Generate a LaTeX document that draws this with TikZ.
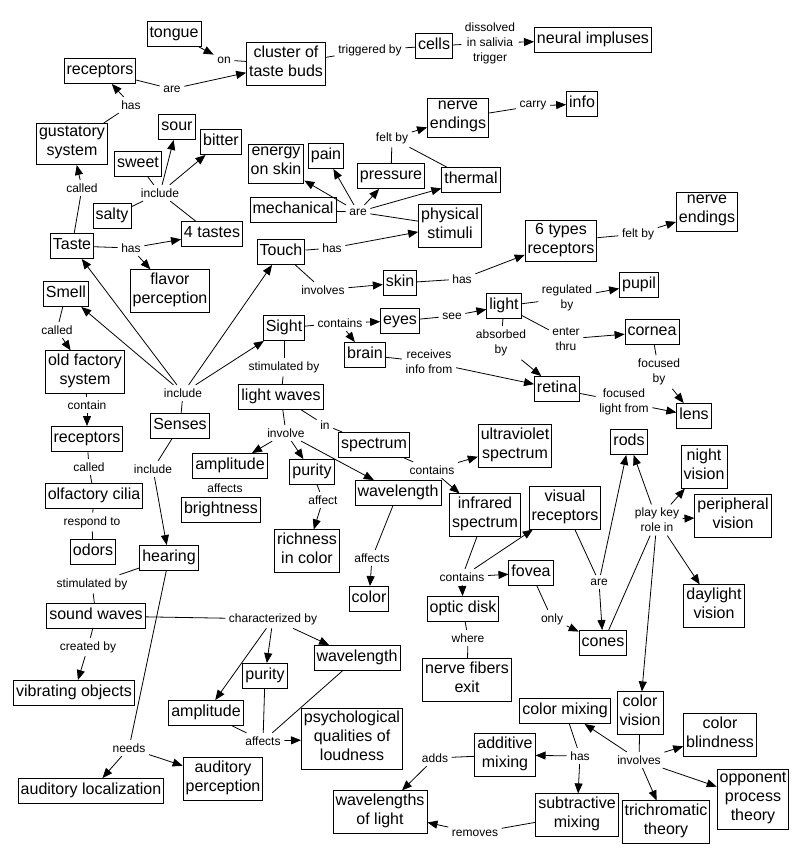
\documentclass[tikz,border=0pt]{standalone}
\usepackage{fontspec}
\setmainfont{Liberation Sans}
\usetikzlibrary{arrows.meta}
\tikzset{
 cpt/.style={draw, line width=0.9pt, font=\fontsize{16}{19}\selectfont, align=center,
   inner xsep=2.5pt, inner ysep=3pt, execute at begin node=\strut, execute at end node=\strut},
 lbl/.style={font=\fontsize{12}{15}\selectfont, align=center, inner sep=3.5pt},
 ln/.style={line width=0.8pt},
 ar/.style={line width=0.8pt, -{Triangle[length=10pt,width=8pt]}},
}
\begin{document}
\begin{tikzpicture}[x=1pt,y=-1pt]
\useasboundingbox (0,0) rectangle (806,864);
% concepts
\node[cpt] (tongue) at (174,34) {tongue};
\node[cpt] (cluster) at (286,64) {cluster of\\taste buds};
\node[cpt] (cells) at (434,46) {cells};
\node[cpt] (neural) at (593,40) {neural impluses};
\node[cpt] (rectop) at (100,71) {receptors};
\node[cpt] (gust) at (72,144) {gustatory\\system};
\node[cpt] (sour) at (177,127) {sour};
\node[cpt] (bitter) at (221,142) {bitter};
\node[cpt] (sweet) at (138,164) {sweet};
\node[cpt] (salty) at (112,216) {salty};
\node[cpt] (tastes4) at (212,234) {4 tastes};
\node[cpt] (taste) at (72,246) {Taste};
\node[cpt] (flavor) at (170,291) {flavor\\perception};
\node[cpt] (smell) at (66,294) {Smell};
\node[cpt] (olfsys) at (85,372) {old factory\\system};
\node[cpt] (recsm) at (87,439) {receptors};
\node[cpt] (cilia) at (94,496) {olfactory cilia};
\node[cpt] (odors) at (93,552) {odors};
\node[cpt] (hearing) at (169,558) {hearing};
\node[cpt] (sound) at (96,616) {sound waves};
\node[cpt] (vibr) at (74,693) {vibrating objects};
\node[cpt] (senses) at (180,426) {Senses};
\node[cpt] (sight) at (284,328) {Sight};
\node[cpt] (touch) at (281,252) {Touch};
\node[cpt] (skin) at (400,283) {skin};
\node[cpt] (types6) at (561,241) {6 types\\receptors};
\node[cpt] (nerveR) at (707,212) {nerve\\endings};
\node[cpt] (mech) at (293,210) {mechanical};
\node[cpt] (energy) at (276,164) {energy\\on skin};
\node[cpt] (pain) at (326,156) {pain};
\node[cpt] (pressure) at (391,176) {pressure};
\node[cpt] (thermal) at (471,180) {thermal};
\node[cpt] (phys) at (450,226) {physical\\stimuli};
\node[cpt] (nerveT) at (458,118) {nerve\\endings};
\node[cpt] (info) at (582,104) {info};
\node[cpt] (eyes) at (400,321) {eyes};
\node[cpt] (light) at (504,306) {light};
\node[cpt] (pupil) at (639,285) {pupil};
\node[cpt] (cornea) at (652,332) {cornea};
\node[cpt] (brain) at (365,355) {brain};
\node[cpt] (retina) at (557,389) {retina};
\node[cpt] (lens) at (694,416) {lens};
\node[cpt] (lwaves) at (281,397) {light waves};
\node[cpt] (spectrum) at (374,445) {spectrum};
\node[cpt] (ampS) at (230,466) {amplitude};
\node[cpt] (bright) at (221,510) {brightness};
\node[cpt] (purS) at (312,472) {purity};
\node[cpt] (rich) at (307,551) {richness\\in color};
\node[cpt] (wavS) at (398,493) {wavelength};
\node[cpt] (color) at (369,599) {color};
\node[cpt] (uv) at (515,446) {ultraviolet\\spectrum};
\node[cpt] (ir) at (485,515) {infrared\\spectrum};
\node[cpt] (visrec) at (565,508) {visual\\receptors};
\node[cpt] (fovea) at (531,573) {fovea};
\node[cpt] (optic) at (463,609) {optic disk};
\node[cpt] (nfe) at (467,680) {nerve fibers\\exit};
\node[cpt] (rods) at (629,442) {rods};
\node[cpt] (cones) at (603,643) {cones};
\node[cpt] (night) at (704,467) {night\\vision};
\node[cpt] (periph) at (733,516) {peripheral\\vision};
\node[cpt] (daylight) at (714,606) {daylight\\vision};
\node[cpt] (cvision) at (640,713) {color\\vision};
\node[cpt] (cmix) at (565,711) {color mixing};
\node[cpt] (additive) at (505,755) {additive\\mixing};
\node[cpt] (wol) at (380,812) {wavelengths\\of light};
\node[cpt] (subtr) at (577,815) {subtractive\\mixing};
\node[cpt] (trich) at (666,822) {trichromatic\\theory};
\node[cpt] (cblind) at (720,735) {color\\blindness};
\node[cpt] (opp) at (753,799) {opponent\\process\\theory};
\node[cpt] (wavH) at (357,658) {wavelength};
\node[cpt] (purH) at (265,676) {purity};
\node[cpt] (ampH) at (206,713) {amplitude};
\node[cpt] (psych) at (352,739) {psychological\\qualities of\\loudness};
\node[cpt] (audloc) at (91,791) {auditory localization};
\node[cpt] (audper) at (223,779) {auditory\\perception};
% labels
\node[lbl] (lon) at (224,60) {on};
\node[lbl] (lare1) at (172,89) {are};
\node[lbl] (ltrig) at (370,50) {triggered by};
\node[lbl] (ldiss) at (490,43) {dissolved\\in salivia\\trigger};
\node[lbl] (lhas1) at (131,105) {has};
\node[lbl] (linc1) at (160,193) {include};
\node[lbl] (lcalled1) at (82,188) {called};
\node[lbl] (lhas2) at (131,248) {has};
\node[lbl] (lcalled2) at (57,330) {called};
\node[lbl] (lcontain) at (87,405) {contain};
\node[lbl] (lcalled3) at (89,467) {called};
\node[lbl] (lrespond) at (92,522) {respond to};
\node[lbl] (lstim1) at (92,584) {stimulated by};
\node[lbl] (lcreated) at (88,647) {created by};
\node[lbl] (lneeds) at (129,748) {needs};
\node[lbl] (lchar) at (273,619) {characterized by};
\node[lbl] (laffH) at (263,741) {affects};
\node[lbl] (linc2) at (183,393) {include};
\node[lbl] (linc3) at (153,469) {include};
\node[lbl] (lhasT) at (332,248) {has};
\node[lbl] (linvolves) at (323,290) {involves};
\node[lbl] (lhasS) at (462,279) {has};
\node[lbl] (lfelt2) at (638,234) {felt by};
\node[lbl] (lare2) at (358,212) {are};
\node[lbl] (lfelt1) at (392,138) {felt by};
\node[lbl] (lcarry) at (533,106) {carry};
\node[lbl] (lcontains1) at (340,323) {contains};
\node[lbl] (lsee) at (452,316) {see};
\node[lbl] (lreg) at (567,298) {regulated\\by};
\node[lbl] (lenter) at (566,339) {enter\\thru};
\node[lbl] (labsorbed) at (501,343) {absorbed\\by};
\node[lbl] (lreceives) at (429,362) {receives\\info from};
\node[lbl] (lflf) at (624,402) {focused\\light from};
\node[lbl] (lfby) at (659,372) {focused\\by};
\node[lbl] (lstim2) at (284,367) {stimulated by};
\node[lbl] (lin) at (325,425) {in};
\node[lbl] (linvolve) at (286,433) {involve};
\node[lbl] (laffS1) at (225,488) {affects};
\node[lbl] (laffect) at (323,500) {affect};
\node[lbl] (laffS2) at (372,558) {affects};
\node[lbl] (lcontains2) at (432,470) {contains};
\node[lbl] (lcontains3) at (462,577) {contains};
\node[lbl] (lwhere) at (468,638) {where};
\node[lbl] (lonly) at (552,619) {only};
\node[lbl] (lare3) at (599,582) {are};
\node[lbl] (lplay) at (657,520) {play key\\role in};
\node[lbl] (linvolves2) at (639,760) {involves};
\node[lbl] (lhasC) at (580,756) {has};
\node[lbl] (ladds) at (435,758) {adds};
\node[lbl] (lremoves) at (475,833) {removes};
% connectors
\draw[ar] (tongue) -- (lon); \draw[ln] (lon) -- (cluster);
\draw[ln] (rectop) -- (lare1); \draw[ar] (lare1) -- (cluster);
\draw[ln] (cluster) -- (ltrig); \draw[ln] (ltrig) -- (cells);
\draw[ln] (cells) -- (ldiss); \draw[ar] (ldiss) -- (neural);
\draw[ln] (gust) -- (lhas1); \draw[ar] (lhas1) -- (rectop);
\draw[ln] (taste) -- (lcalled1); \draw[ar] (lcalled1) -- (gust);
\draw[ln] (tastes4) -- (linc1); \draw[ar] (linc1) -- (sour); \draw[ar] (linc1) -- (bitter);
\draw[ln] (linc1) -- (sweet); \draw[ln] (linc1) -- (salty);
\draw[ln] (taste) -- (lhas2); \draw[ar] (lhas2) -- (tastes4); \draw[ar] (lhas2) -- (flavor);
\draw[ln] (senses) -- (linc2);
\draw[ar] (linc2) -- (taste); \draw[ar] (linc2) -- (smell); \draw[ar] (linc2) -- (touch); \draw[ar] (linc2) -- (sight);
\draw[ln] (senses) -- (linc3); \draw[ar] (linc3) -- (hearing);
\draw[ln] (smell) -- (lcalled2); \draw[ar] (lcalled2) -- (olfsys);
\draw[ln] (olfsys) -- (lcontain); \draw[ar] (lcontain) -- (recsm);
\draw[ln] (recsm) -- (lcalled3); \draw[ln] (lcalled3) -- (cilia);
\draw[ln] (cilia) -- (lrespond); \draw[ln] (lrespond) -- (odors);
\draw[ln] (hearing) -- (lstim1); \draw[ln] (lstim1) -- (sound);
\draw[ln] (sound) -- (lcreated); \draw[ar] (lcreated) -- (vibr);
\draw[ln] (hearing) -- (lneeds); \draw[ar] (lneeds) -- (audloc); \draw[ar] (lneeds) -- (audper);
\draw[ln] (sound) -- (lchar); \draw[ar] (lchar) -- (ampH); \draw[ar] (lchar) -- (purH); \draw[ar] (lchar) -- (wavH);
\draw[ln] (ampH) -- (laffH); \draw[ln] (purH) -- (laffH); \draw[ln] (wavH) -- (laffH); \draw[ar] (laffH) -- (psych);
\draw[ln] (touch) -- (lhasT); \draw[ar] (lhasT) -- (phys);
\draw[ln] (touch) -- (linvolves); \draw[ar] (linvolves) -- (skin);
\draw[ln] (skin) -- (lhasS); \draw[ar] (lhasS) -- (types6);
\draw[ln] (types6) -- (lfelt2); \draw[ar] (lfelt2) -- (nerveR);
\draw[ln] (mech) -- (lare2); \draw[ln] (phys) -- (lare2);
\draw[ar] (lare2) -- (energy); \draw[ar] (lare2) -- (pain); \draw[ar] (lare2) -- (pressure); \draw[ar] (lare2) -- (thermal);
\draw[ln] (pressure) -- (lfelt1); \draw[ln] (thermal) -- (lfelt1); \draw[ar] (lfelt1) -- (nerveT);
\draw[ln] (nerveT) -- (lcarry); \draw[ar] (lcarry) -- (info);
\draw[ln] (sight) -- (lcontains1); \draw[ar] (lcontains1) -- (eyes); \draw[ar] (lcontains1) -- (brain);
\draw[ln] (eyes) -- (lsee); \draw[ar] (lsee) -- (light);
\draw[ln] (light) -- (lreg); \draw[ar] (lreg) -- (pupil);
\draw[ln] (light) -- (lenter); \draw[ar] (lenter) -- (cornea);
\draw[ln] (light) -- (labsorbed); \draw[ar] (labsorbed) -- (retina);
\draw[ln] (brain) -- (lreceives); \draw[ar] (lreceives) -- (retina);
\draw[ln] (retina) -- (lflf); \draw[ar] (lflf) -- (lens);
\draw[ln] (cornea) -- (lfby); \draw[ar] (lfby) -- (lens);
\draw[ln] (sight) -- (lstim2); \draw[ln] (lstim2) -- (lwaves);
\draw[ln] (lwaves) -- (lin); \draw[ln] (lin) -- (spectrum);
\draw[ln] (lwaves) -- (linvolve); \draw[ar] (linvolve) -- (ampS); \draw[ar] (linvolve) -- (purS); \draw[ar] (linvolve) -- (wavS);
\draw[ln] (purS) -- (laffect); \draw[ar] (laffect) -- (rich);
\draw[ln] (wavS) -- (laffS2); \draw[ar] (laffS2) -- (color);
\draw[ln] (spectrum) -- (lcontains2); \draw[ar] (lcontains2) -- (uv); \draw[ar] (lcontains2) -- (ir);
\draw[ln] (ir) -- (lcontains3); \draw[ar] (lcontains3) -- (visrec); \draw[ar] (lcontains3) -- (fovea); \draw[ar] (lcontains3) -- (optic);
\draw[ln] (optic) -- (lwhere); \draw[ln] (lwhere) -- (nfe);
\draw[ln] (fovea) -- (lonly); \draw[ar] (lonly) -- (cones);
\draw[ln] (visrec) -- (lare3); \draw[ar] (lare3) -- (rods); \draw[ar] (lare3) -- (cones);
\draw[ln] (cones) -- (lplay); \draw[ar] (lplay) -- (rods); \draw[ar] (lplay) -- (night); \draw[ar] (lplay) -- (periph);
\draw[ar] (lplay) -- (daylight); \draw[ar] (lplay) -- (cvision);
\draw[ln] (cvision) -- (linvolves2); \draw[ar] (linvolves2) -- (cmix); \draw[ar] (linvolves2) -- (cblind);
\draw[ar] (linvolves2) -- (trich); \draw[ar] (linvolves2) -- (opp);
\draw[ln] (cmix) -- (lhasC); \draw[ar] (lhasC) -- (additive); \draw[ar] (lhasC) -- (subtr);
\draw[ln] (additive) -- (ladds); \draw[ar] (ladds) -- (wol);
\draw[ln] (subtr) -- (lremoves); \draw[ar] (lremoves) -- (wol);
\end{tikzpicture}
\end{document}
